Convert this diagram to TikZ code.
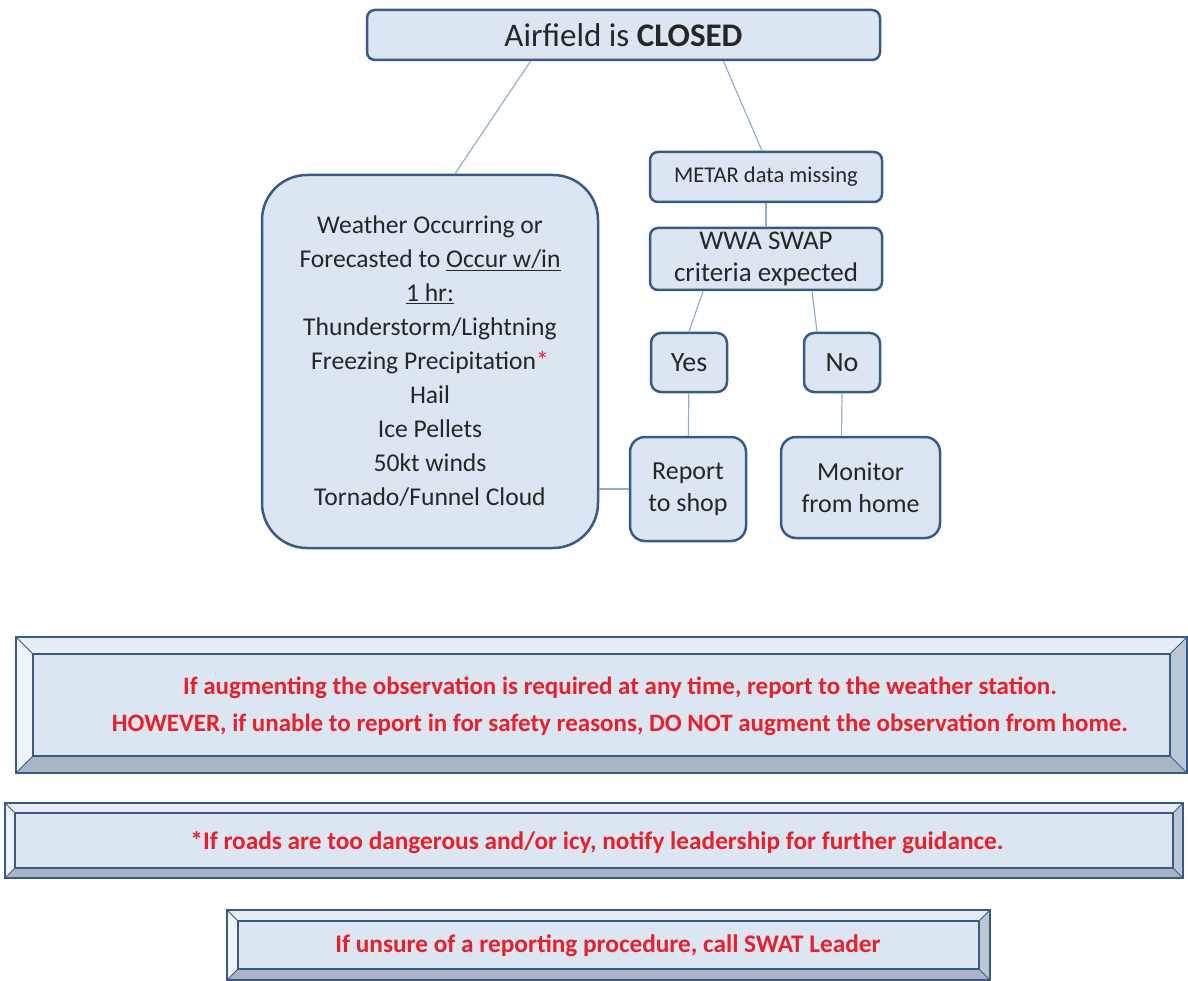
\documentclass[tikz,border=0pt]{standalone}
\usepackage{fontspec}
\setmainfont{Carlito}
\definecolor{boxfill}{HTML}{DCE6F2}
\definecolor{boxline}{HTML}{3A5A86}
\definecolor{linkline}{HTML}{95AECB}
\definecolor{warnred}{HTML}{E8202A}
\definecolor{bevtop}{HTML}{E6EDF7}
\definecolor{bevleft}{HTML}{EEF3FA}
\definecolor{bevbottom}{HTML}{A9B5C5}
\definecolor{bevright}{HTML}{BCC7D6}
\tikzset{
  flowbox/.style={draw=boxline, line width=2.5pt, fill=boxfill, rounded corners=8pt,
    align=center, text=black!85, inner sep=2pt},
  link/.style={draw=linkline, line width=1.2pt},
  warntext/.style={text=warnred, align=center}
}
\begin{document}
\begin{tikzpicture}[x=1pt,y=-1pt]
  \useasboundingbox (0,0) rectangle (1188,981);
  % flow chart
  \node[flowbox, minimum width=513, minimum height=50, font=\fontsize{33}{40}\selectfont] (closed) at (623.5,35) {Airfield is \textbf{CLOSED}};
  \node[flowbox, rounded corners=45pt, minimum width=336, minimum height=373, font=\fontsize{25.6}{34}\selectfont] (weather) at (430,361.5)
    {Weather Occurring or\\Forecasted to \underline{Occur w/in}\\\underline{1 hr:}\\Thunderstorm/Lightning\\Freezing Precipitation{\color{warnred}*}\\Hail\\Ice Pellets\\50kt winds\\Tornado/Funnel Cloud};
  \node[flowbox, minimum width=232, minimum height=50, font=\fontsize{22.5}{26}\selectfont] (metar) at (766,177) {METAR data missing};
  \node[flowbox, minimum width=232, minimum height=62, font=\fontsize{27}{32}\selectfont] (wwa) at (766,259) {WWA SWAP\\criteria expected};
  \node[flowbox, rounded corners=10pt, minimum width=76, minimum height=59, font=\fontsize{28}{32}\selectfont] (yes) at (689,362.5) {Yes};
  \node[flowbox, rounded corners=10pt, minimum width=76, minimum height=59, font=\fontsize{28}{32}\selectfont] (no) at (842,362.5) {No};
  \node[flowbox, rounded corners=15pt, minimum width=116, minimum height=104, font=\fontsize{26}{32}\selectfont] (report) at (688,489) {Report\\to shop};
  \node[flowbox, rounded corners=15pt, minimum width=159, minimum height=101, font=\fontsize{26}{32}\selectfont] (monitor) at (860.5,487.5) {Monitor\\from home};
  \draw[link] ([xshift=-93pt]closed.south) -- ([xshift=25pt]weather.north);
  \draw[link] ([xshift=100pt]closed.south) -- ([xshift=-4pt]metar.north);
  \draw[link] (metar) -- (wwa);
  \draw[link] ([xshift=-63pt]wwa.south) -- (yes.north);
  \draw[link] ([xshift=46pt]wwa.south) -- ([xshift=-25pt]no.north);
  \draw[link] (yes) -- (report);
  \draw[link] (no.south) -- ([xshift=-19pt]monitor.north);
  \draw[link] (weather.east |- report.west) -- (report.west);
  % bevelled notes
  \foreach \xa/\ya/\xb/\yb/\d in {16/637/1187/773/17, 5/803/1183/878/10, 227/910/990/980/11}{
    \fill[bevtop] (\xa,\ya) -- (\xb,\ya) -- (\xb-\d,\ya+\d) -- (\xa+\d,\ya+\d) -- cycle;
    \fill[bevleft] (\xa,\ya) -- (\xa+\d,\ya+\d) -- (\xa+\d,\yb-\d) -- (\xa,\yb) -- cycle;
    \fill[bevbottom] (\xa,\yb) -- (\xa+\d,\yb-\d) -- (\xb-\d,\yb-\d) -- (\xb,\yb) -- cycle;
    \fill[bevright] (\xb,\ya) -- (\xb-\d,\ya+\d) -- (\xb-\d,\yb-\d) -- (\xb,\yb) -- cycle;
    \fill[boxfill] (\xa+\d,\ya+\d) rectangle (\xb-\d,\yb-\d);
    \draw[boxline, line width=1pt] (\xa,\ya) -- (\xa+\d,\ya+\d) (\xb,\ya) -- (\xb-\d,\ya+\d)
      (\xa,\yb) -- (\xa+\d,\yb-\d) (\xb,\yb) -- (\xb-\d,\yb-\d);
    \draw[boxline, line width=2.5pt] (\xa+\d,\ya+\d) rectangle (\xb-\d,\yb-\d);
    \draw[boxline, line width=2.5pt] (\xa,\ya) rectangle (\xb,\yb);
  }
  \node[warntext, font=\bfseries\fontsize{25}{37}\selectfont] (augment) at (620,706.5)
    {If augmenting the observation is required at any time, report to the weather station.\\HOWEVER, if unable to report in for safety reasons, DO NOT augment the observation from home.};
  \node[warntext, font=\bfseries\fontsize{25.3}{28}\selectfont] (roads) at (597,843) {*If roads are too dangerous and/or icy, notify leadership for further guidance.};
  \node[warntext, font=\bfseries\fontsize{25.3}{28}\selectfont] (unsure) at (608,946) {If unsure of a reporting procedure, call SWAT Leader};
\end{tikzpicture}
\end{document}
